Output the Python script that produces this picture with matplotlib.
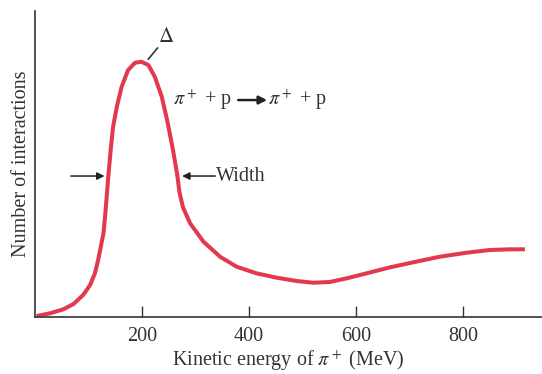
import numpy as np
import matplotlib.pyplot as plt

plt.rcParams['font.family'] = ['Liberation Serif', 'DejaVu Serif']
plt.rcParams['mathtext.fontset'] = 'stix'

# curve (energy in MeV, counts in arbitrary units)
energia = [3, 28, 53, 72, 90, 103, 112, 118, 123, 128, 131, 134, 137, 141.5,
           146, 153, 162, 174, 187, 199, 212, 224, 237, 247, 258, 266, 270,
           276.5, 290, 315, 346, 377, 414, 452, 489, 520, 551, 583, 620, 664,
           707, 757, 807, 850, 888, 916]
contagens = [1, 3.7, 7.7, 13, 22, 32, 43.7, 57, 70.3, 83.7, 100.3, 120, 140.3,
             167, 190.3, 210.3, 230.3, 247, 254.3, 255.3, 252, 240.3, 220.3,
             197, 167, 142, 125, 110, 93.7, 75.3, 60.3, 50.3, 43.7, 39.3, 36,
             34.3, 35, 38.7, 43.7, 49.7, 54.7, 60.3, 64.3, 67, 67.7, 67.7]
ticks_x = [200, 400, 600, 800]

fig = plt.figure(figsize=(5.42, 3.74), dpi=100)
ax = fig.add_axes([0.0646, 0.1524, 0.9354, 0.818])

ax.plot(energia, contagens, color='#e2394f', lw=2.9, solid_capstyle='butt',
        solid_joinstyle='round')

ax.set_xlim(0, 948)
ax.set_ylim(0, 306)
ax.set_xticks(ticks_x)
ax.set_yticks([])
ax.tick_params(axis='x', direction='in', length=8, width=1, colors='#333333',
               labelsize=14.5, labelcolor='#333333', pad=7)
for lado in ['top', 'right']:
    ax.spines[lado].set_visible(False)
for lado in ['left', 'bottom']:
    ax.spines[lado].set_color('#333333')
    ax.spines[lado].set_linewidth(1.2)

ax.set_xlabel(r'Kinetic energy of $\pi^+$ (MeV)', fontsize=14.5, color='#333333',
              labelpad=2)
ax.set_ylabel('Number of interactions', fontsize=14.5, color='#333333', labelpad=3)

# anotações
ax.plot([212, 229], [258, 269], color='#333333', lw=1.2)
ax.text(245, 280, r'$\Delta$', fontsize=15, ha='center', va='center', color='#333333')

ax.text(258, 217, r'$\pi^+$ + p', fontsize=14.5, ha='left', va='center', color='#333333')
ax.annotate('', xy=(434, 217), xytext=(380, 217),
            arrowprops=dict(arrowstyle='-|>', color='#222222', lw=1.8,
                            mutation_scale=12, shrinkA=0, shrinkB=0))
ax.text(436, 217, r'$\pi^+$ + p', fontsize=14.5, ha='left', va='center', color='#333333')

ax.annotate('', xy=(130, 141), xytext=(67, 141),
            arrowprops=dict(arrowstyle='-|>', color='#222222', lw=1.1,
                            mutation_scale=11, shrinkA=0, shrinkB=0))
ax.annotate('', xy=(275, 141), xytext=(337, 141),
            arrowprops=dict(arrowstyle='-|>', color='#222222', lw=1.1,
                            mutation_scale=11, shrinkA=0, shrinkB=0))
ax.text(339, 141, 'Width', fontsize=14.5, ha='left', va='center', color='#333333')

plt.savefig('out.png', dpi=100)
